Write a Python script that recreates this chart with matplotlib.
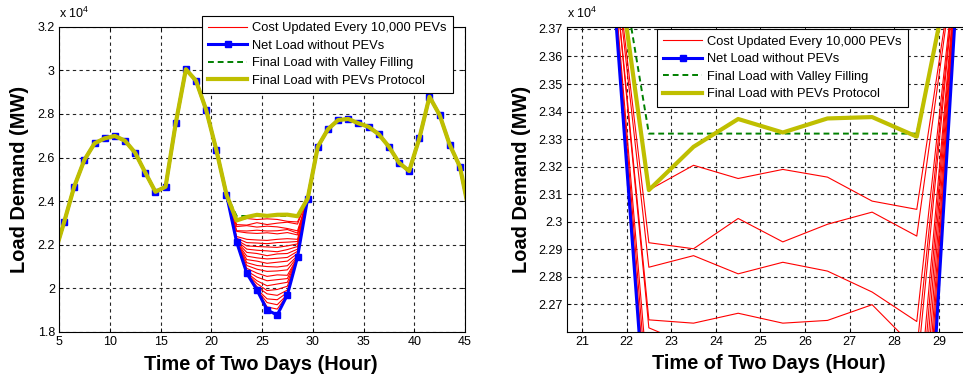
import numpy as np
import matplotlib
matplotlib.use("Agg")
import matplotlib.pyplot as plt

plt.rcParams['font.family'] = ['Liberation Sans', 'DejaVu Sans']
plt.rcParams['mathtext.default'] = 'regular'

# hours (half-hour centres) for two days, values in 10^4 MW
hours = np.arange(4.5, 46.0, 1.0)
net_load = [2.147, 2.303, 2.467, 2.589, 2.665, 2.688, 2.699, 2.677, 2.622, 2.531,
            2.443, 2.466, 2.757, 3.005, 2.952, 2.818, 2.635, 2.430, 2.212, 2.069,
            1.993, 1.901, 1.878, 1.970, 2.143, 2.412, 2.650, 2.730, 2.772, 2.777,
            2.757, 2.741, 2.707, 2.650, 2.576, 2.538, 2.688, 2.879, 2.795, 2.658,
            2.558, 2.330]

# valley hours 22.5 .. 28.5
valley_start = 18
valley_fill = [2.332, 2.332, 2.332, 2.332, 2.332, 2.332, 2.332]
pev_protocol = [2.3115, 2.3272, 2.3373, 2.3324, 2.3375, 2.3380, 2.3309]

# cost updated every 10,000 PEVs (valley hours only)
cost_iters = [
    [2.212, 2.069, 1.993, 1.915, 1.905, 1.970, 2.143],
    [2.212, 2.069, 1.993, 1.935, 1.925, 1.972, 2.143],
    [2.212, 2.069, 1.996, 1.952, 1.948, 1.981, 2.143],
    [2.212, 2.069, 2.008, 1.975, 1.968, 1.992, 2.143],
    [2.212, 2.069, 2.022, 1.990, 1.995, 2.010, 2.143],
    [2.212, 2.072, 2.035, 2.012, 2.020, 2.028, 2.143],
    [2.212, 2.080, 2.052, 2.035, 2.040, 2.045, 2.143],
    [2.212, 2.092, 2.070, 2.055, 2.062, 2.060, 2.143],
    [2.212, 2.105, 2.088, 2.078, 2.080, 2.085, 2.145],
    [2.212, 2.118, 2.105, 2.100, 2.098, 2.104, 2.150],
    [2.212, 2.132, 2.125, 2.115, 2.120, 2.125, 2.160],
    [2.212, 2.148, 2.140, 2.135, 2.138, 2.142, 2.170],
    [2.214, 2.165, 2.160, 2.150, 2.158, 2.160, 2.180],
    [2.218, 2.180, 2.175, 2.172, 2.168, 2.178, 2.192],
    [2.222, 2.195, 2.192, 2.190, 2.188, 2.195, 2.204],
    [2.230, 2.210, 2.208, 2.205, 2.210, 2.212, 2.215],
    [2.238, 2.225, 2.222, 2.220, 2.225, 2.228, 2.225],
    [2.2615, 2.2547, 2.252, 2.255, 2.250, 2.256, 2.245],
    [2.2644, 2.2632, 2.2668, 2.2632, 2.2642, 2.2699, 2.2535],
    [2.2835, 2.2877, 2.2811, 2.2853, 2.2821, 2.2745, 2.2638],
    [2.2924, 2.2902, 2.3012, 2.2927, 2.2991, 2.3035, 2.2948],
    [2.3115, 2.3205, 2.3157, 2.3190, 2.3162, 2.3075, 2.3045],
    [2.3115, 2.3272, 2.3373, 2.3324, 2.3375, 2.3380, 2.3309],
]


def with_valley(seg):
    n = len(seg)
    return net_load[:valley_start] + list(seg) + net_load[valley_start + n:]


fig = plt.figure(figsize=(9.63, 3.8), dpi=100)
ax1 = fig.add_axes([59 / 963, 48 / 380, 406 / 963, 305.3 / 380])
ax2 = fig.add_axes([566.7 / 963, 48.3 / 380, 398.3 / 963, 305 / 380])

for ax in (ax1, ax2):
    for k, it in enumerate(cost_iters):
        ax.plot(hours, with_valley(it), color='#ff0000', lw=0.8,
                label='Cost Updated Every 10,000 PEVs' if k == 0 else None)
    ax.plot(hours, net_load, color='#0000ff', lw=2.2, marker='s', ms=4,
            mfc='#0000ff', mec='#0000ff', label='Net Load without PEVs')
    ax.plot(hours, with_valley(valley_fill), color='#008000', lw=1.4,
            ls=(0, (3, 2)), label='Final Load with Valley Filling')
    ax.plot(hours, with_valley(pev_protocol), color='#bfbf00', lw=3,
            label='Final Load with PEVs Protocol')

    ax.grid(True, color='0.15', ls=(0, (3, 3)), lw=0.8)
    ax.tick_params(direction='in', top=True, right=True, labelsize=9,
                   length=3, width=0.6, pad=3)
    for s in ax.spines.values():
        s.set_linewidth(0.8)
    ax.set_xlabel('Time of Two Days (Hour)', fontsize=14.4, fontweight='bold')
    ax.set_ylabel('Load Demand (MW)', fontsize=14.4, fontweight='bold')
    ax.text(0, 1.02, 'x 10$^{4}$', transform=ax.transAxes, fontsize=9,
            ha='left', va='bottom')
    ax.yaxis.set_major_formatter(matplotlib.ticker.FormatStrFormatter('%g'))

ax1.set_xlim(5, 45)
ax1.set_ylim(1.8, 3.2)
ax1.set_xticks(np.arange(5, 46, 5))
ax1.set_yticks([1.8, 2.0, 2.2, 2.4, 2.6, 2.8, 3.0, 3.2])
ax1.xaxis.set_label_coords(0.497, -0.075)
ax1.yaxis.set_label_coords(-0.074, 0.5)

ax2.set_xlim(20.66, 29.58)
ax2.set_ylim(2.2601, 2.3708)
ax2.set_xticks(np.arange(21, 30, 1))
ax2.set_yticks([2.27, 2.28, 2.29, 2.30, 2.31, 2.32, 2.33, 2.34, 2.35, 2.36, 2.37])
ax2.xaxis.set_label_coords(0.508, -0.072)
ax2.yaxis.set_label_coords(-0.09, 0.5)

leg_kw = dict(loc='upper left', fontsize=9.3, fancybox=False, framealpha=1,
              edgecolor='black', handlelength=3.0, handletextpad=0.4,
              labelspacing=0.42, borderpad=0.5, borderaxespad=0)
l1 = ax1.legend(bbox_to_anchor=(201.7 / 963, 1 - 16 / 380),
                bbox_transform=fig.transFigure, **leg_kw)
l2 = ax2.legend(bbox_to_anchor=(656.7 / 963, 1 - 29.3 / 380),
                bbox_transform=fig.transFigure, **leg_kw)
for l in (l1, l2):
    l.get_frame().set_linewidth(0.8)
    l.set_zorder(10)

fig.savefig('out.png', dpi=100)
